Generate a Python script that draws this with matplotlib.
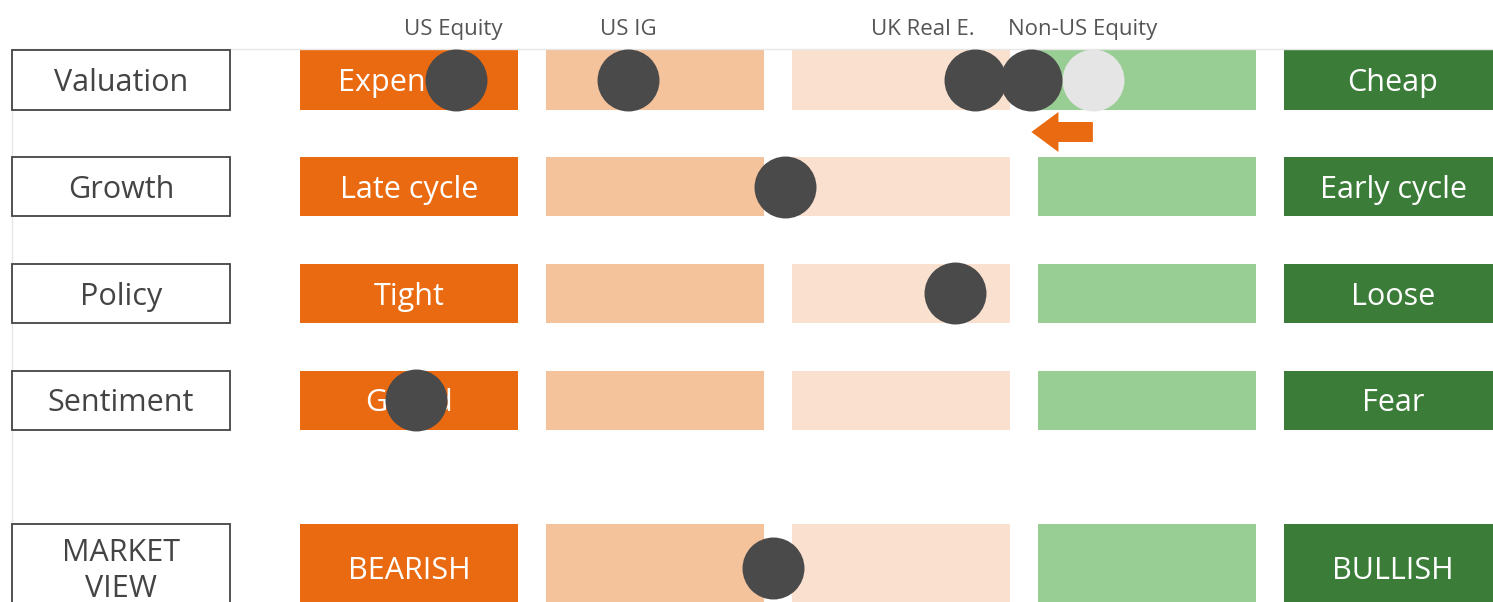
import matplotlib.pyplot as plt
from matplotlib.patches import Rectangle

# factors (rows) and the words at the two ends of each scale
factors = ['Valuation', 'Growth', 'Policy', 'Sentiment', 'MARKET\nVIEW']
left_words = ['Expensive', 'Late cycle', 'Tight', 'Greed', 'BEARISH']
right_words = ['Cheap', 'Early cycle', 'Loose', 'Fear', 'BULLISH']
row_top = [-0.2765, 0.7235, 1.7235, 2.7235, 4.159]
row_height = [0.553, 0.553, 0.553, 0.553, 0.82]

# score scale goes 1 (bearish) .. 5 (bullish)
col_colors = ['#EA6A11', '#F4C39C', '#FAE0CF', '#98CD93', '#3B7D38']

# current positions of the dots
dot_scores = [1.19, 1.89, 3.30, 3.53, 2.53, 3.22, 1.03, 2.48]
dot_rows = [0, 0, 0, 0, 1, 2, 3, 4.57]

# previous position (light grey) of Non-US Equity
prev_score = 3.78
prev_row = 0

# asset labels on top
asset_names = ['US Equity', 'US IG', 'UK Real E.', 'Non-US Equity']
asset_label_x = [1.18, 1.89, 3.09, 3.74]

font = 'Open Sans'

fig = plt.figure(figsize=(14.93, 6.02), dpi=100)
ax = fig.add_axes([12 / 1493, 0, 1 - 12 / 1493, (602 - 49) / 602])
ax.set_xlim(-0.6138, 5.4065)
ax.set_ylim(4.890, -0.2904)
ax.set_xticks([])
ax.set_yticks([])
for side in ['right', 'bottom']:
    ax.spines[side].set_visible(False)
for side in ['top', 'left']:
    ax.spines[side].set_color('#E6E6E6')
    ax.spines[side].set_linewidth(1)

bar_w = 0.886
dy = 0.03  # small nudge so the text sits in the middle of the boxes
for top, h, name, lw, rw in zip(row_top, row_height, factors, left_words, right_words):
    cy = top + h / 2 + dy
    # label box on the left
    ax.add_patch(Rectangle((-0.1707 - bar_w / 2, top), bar_w, h,
                           facecolor='white', edgecolor='#444444', lw=1.3,
                           clip_on=False, zorder=3))
    ax.text(-0.1707, cy, name, ha='center', va='center', fontsize=22,
            color='#444444', family=font, linespacing=1.25, zorder=4)
    # the five scale boxes
    for i, c in enumerate(col_colors):
        ax.add_patch(Rectangle((i + 1 - bar_w / 2, top), bar_w, h,
                               facecolor=c, edgecolor='none', clip_on=False,
                               zorder=1))
    ax.text(1, cy, lw, ha='center', va='center', fontsize=22, color='white',
            family=font, zorder=2)
    ax.text(5, cy, rw, ha='center', va='center', fontsize=22, color='white',
            family=font, zorder=2)

# dots
ax.scatter([prev_score], [prev_row], s=1990, color='#E5E5E5', zorder=5,
           clip_on=False, linewidths=0)
ax.scatter(dot_scores, dot_rows, s=1990, color='#4A4A4A', zorder=6,
           clip_on=False, linewidths=0)

# arrow showing the move
ax.arrow(prev_score, prev_row + 0.487, dot_scores[3] - prev_score, 0,
         width=0.187, head_width=0.375, head_length=0.11,
         length_includes_head=True, color='#EA6A11', lw=0, zorder=4,
         clip_on=False)

for name, x in zip(asset_names, asset_label_x):
    ax.text(x, -0.475, name, ha='center', va='center', fontsize=16,
            color='#555555', family=font)

fig.savefig('out.png', dpi=100)
